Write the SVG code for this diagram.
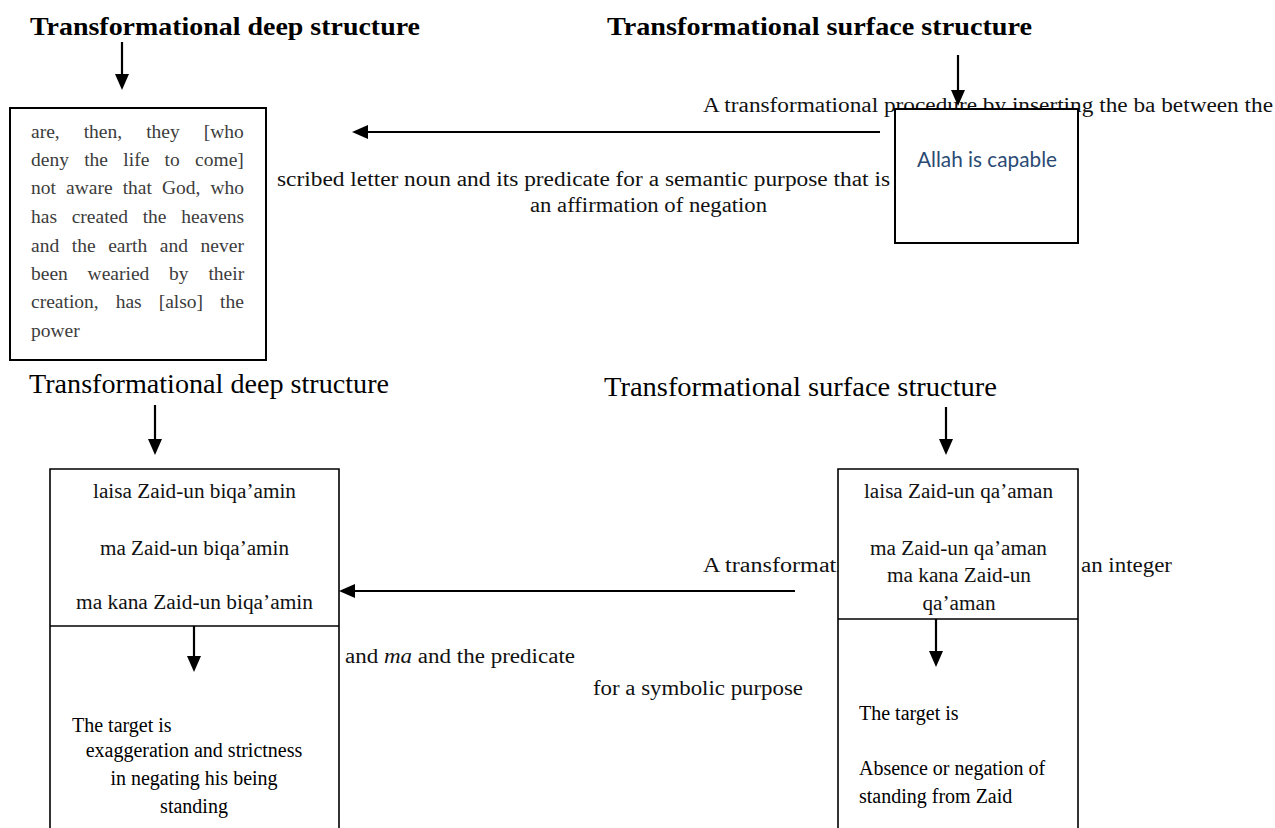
<svg xmlns="http://www.w3.org/2000/svg" width="1275" height="828" viewBox="0 0 1275 828">
<style>
.hb{font-family:"Liberation Serif",serif;font-weight:bold;font-size:26px;fill:#000}
.hr{font-family:"Liberation Serif",serif;font-size:27px;fill:#000}
.t{font-family:"Liberation Serif",serif;font-size:20px;fill:#111}
.g{font-family:"Liberation Serif",serif;font-size:19.5px;fill:#3c3c3c}
.tm{font-family:"Liberation Serif",serif;font-size:20px;fill:#000}
.box{fill:#fff;stroke:#000;stroke-width:2}
.box2{fill:#fff;stroke:#000;stroke-width:1.6}
.ln{stroke:#000;stroke-width:1.6;fill:none}
.c{stroke:#000;stroke-width:2.2;fill:none;marker-end:url(#ah)}
.blue{font-family:Lato,"Open Sans",sans-serif;font-size:21px;fill:#2a4a73}
</style>
<defs>
<marker id="ah" markerUnits="userSpaceOnUse" markerWidth="16" markerHeight="14" viewBox="0 0 16 14" refX="2" refY="7" orient="auto">
<path d="M0,0 L16,7 L0,14 z" fill="#000"/>
</marker>
</defs>
<rect width="1275" height="828" fill="#fff"/>

<g id="labels">
<text class="t" x="703" y="112" textLength="570" lengthAdjust="spacingAndGlyphs">A transformational procedure by inserting the ba between the</text>
<text class="t" x="277" y="186" textLength="613" lengthAdjust="spacingAndGlyphs">scribed letter noun and its predicate for a semantic purpose that is</text>
<text class="t" x="530" y="212" textLength="237" lengthAdjust="spacingAndGlyphs">an affirmation of negation</text>
<text class="t" x="703" y="572" textLength="140" lengthAdjust="spacingAndGlyphs">A transformati</text>
<text class="t" x="1081" y="572" textLength="91" lengthAdjust="spacingAndGlyphs">an integer</text>
<text class="t" x="345" y="663" textLength="230" lengthAdjust="spacingAndGlyphs">and <tspan font-style="italic">ma</tspan> and the predicate</text>
<text class="t" x="593" y="695" textLength="210" lengthAdjust="spacingAndGlyphs">for a symbolic purpose</text>
</g>

<g id="head-deep-top"><text class="hb" x="30" y="35" textLength="390" lengthAdjust="spacingAndGlyphs">Transformational deep structure</text></g>
<g id="head-surface-top"><text class="hb" x="607" y="35" textLength="425" lengthAdjust="spacingAndGlyphs">Transformational surface structure</text></g>
<g id="head-deep-bottom"><text class="hr" x="29" y="393" textLength="360" lengthAdjust="spacingAndGlyphs">Transformational deep structure</text></g>
<g id="head-surface-bottom"><text class="hr" x="604" y="396" textLength="393" lengthAdjust="spacingAndGlyphs">Transformational surface structure</text></g>

<g id="box-quran">
<rect class="box" x="10" y="108" width="256" height="252"/>
<text class="g" y="138"><tspan x="31">are,</tspan><tspan x="83.7">then,</tspan><tspan x="146.2">they</tspan><tspan x="203.8">[who</tspan></text>
<text class="g" y="166"><tspan x="31">deny</tspan><tspan x="84.2">the</tspan><tspan x="123.3">life</tspan><tspan x="164.6">to</tspan><tspan x="195.1">come]</tspan></text>
<text class="g" y="194"><tspan x="31">not</tspan><tspan x="66">aware</tspan><tspan x="122.7">that</tspan><tspan x="162">God,</tspan><tspan x="210.5">who</tspan></text>
<text class="g" y="223"><tspan x="31">has</tspan><tspan x="71.7">created</tspan><tspan x="142.7">the</tspan><tspan x="181.2">heavens</tspan></text>
<text class="g" y="252"><tspan x="31">and</tspan><tspan x="71.8">the</tspan><tspan x="108.2">earth</tspan><tspan x="159.8">and</tspan><tspan x="200.6">never</tspan></text>
<text class="g" y="280"><tspan x="31">been</tspan><tspan x="87.6">wearied</tspan><tspan x="169.1">by</tspan><tspan x="208.4">their</tspan></text>
<text class="g" y="308"><tspan x="31">creation,</tspan><tspan x="115.7">has</tspan><tspan x="158.7">[also]</tspan><tspan x="220.1">the</tspan></text>
<text class="g" x="31" y="337">power</text>
</g>

<g id="box-allah">
<rect class="box" x="895" y="109" width="183" height="134"/>
<text class="blue" x="987" y="167" text-anchor="middle" textLength="140" lengthAdjust="spacingAndGlyphs">Allah is capable</text>
</g>

<g id="box-deep-bottom">
<path class="box2" d="M50,830 V469 H339 V830"/>
<line class="ln" x1="50" y1="626" x2="339" y2="626"/>
<text class="t" x="194.5" y="498" text-anchor="middle" textLength="203" lengthAdjust="spacingAndGlyphs">laisa Zaid-un biqa’amin</text>
<text class="t" x="194.5" y="555" text-anchor="middle" textLength="189" lengthAdjust="spacingAndGlyphs">ma Zaid-un biqa’amin</text>
<text class="t" x="194.5" y="609" text-anchor="middle" textLength="237" lengthAdjust="spacingAndGlyphs">ma kana Zaid-un biqa’amin</text>
<text class="tm" x="72" y="732">The target is</text>
<text class="tm" x="194" y="757" text-anchor="middle">exaggeration and strictness</text>
<text class="tm" x="194" y="785" text-anchor="middle">in negating his being</text>
<text class="tm" x="194" y="813" text-anchor="middle">standing</text>
</g>

<g id="box-surface-bottom">
<path class="box2" d="M838,830 V469 H1078 V830"/>
<line class="ln" x1="838" y1="619" x2="1078" y2="619"/>
<text class="t" x="958.5" y="498" text-anchor="middle" textLength="189" lengthAdjust="spacingAndGlyphs">laisa Zaid-un qa’aman</text>
<text class="t" x="958.5" y="555" text-anchor="middle" textLength="177" lengthAdjust="spacingAndGlyphs">ma Zaid-un qa’aman</text>
<text class="t" x="959" y="582" text-anchor="middle" textLength="144" lengthAdjust="spacingAndGlyphs">ma kana Zaid-un</text>
<text class="t" x="959" y="610" text-anchor="middle" textLength="73" lengthAdjust="spacingAndGlyphs">qa’aman</text>
<text class="tm" x="859" y="720">The target is</text>
<text class="tm" x="859" y="775">Absence or negation of</text>
<text class="tm" x="859" y="803">standing from Zaid</text>
</g>

<g id="connectors">
<line class="c" x1="122" y1="42" x2="122" y2="76"/>
<line class="c" x1="958" y1="55" x2="958" y2="92"/>
<line class="c" x1="880" y1="132" x2="366" y2="132"/>
<line class="c" x1="155" y1="405" x2="155" y2="441"/>
<line class="c" x1="946" y1="407" x2="946" y2="441"/>
<line class="c" x1="795" y1="591" x2="353" y2="591"/>
<line class="c" x1="194" y1="626" x2="194" y2="658"/>
<line class="c" x1="936" y1="619" x2="936" y2="653"/>
</g>
</svg>
